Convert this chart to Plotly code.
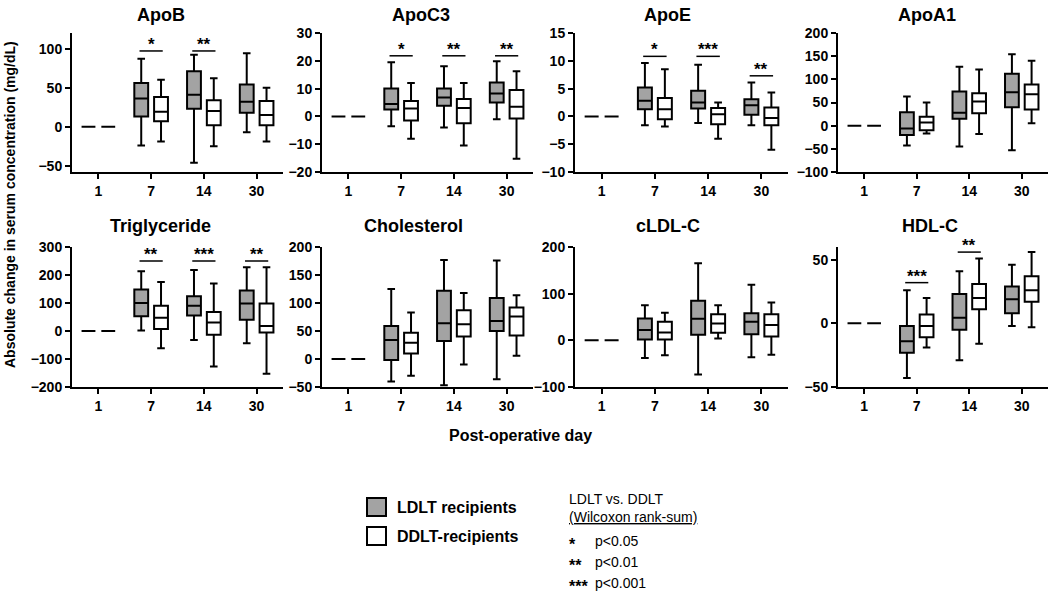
import plotly.graph_objects as go

days = ["1", "7", "14", "30"]
panel_names = ["ApoB", "ApoC3", "ApoE", "ApoA1",
               "Triglyceride", "Cholesterol", "cLDL-C", "HDL-C"]

# box statistics per day: [lower whisker, Q1, median, Q3, upper whisker]
apob_ldlt = [[0, 0, 0, 0, 0], [-24, 13, 36, 56, 87], [-46, 23, 41, 71, 92], [-7, 18, 32, 54, 94]]
apob_ddlt = [[0, 0, 0, 0, 0], [-19, 7, 19, 38, 60], [-25, 2, 20, 34, 62], [-19, 2, 15, 33, 50]]
apoc3_ldlt = [[0, 0, 0, 0, 0], [-3.5, 2.5, 4.5, 10, 19.5], [-4, 3.8, 6.8, 10, 18], [-1, 5, 8.2, 12.2, 19.8]]
apoc3_ddlt = [[0, 0, 0, 0, 0], [-8, -1.5, 2.8, 5.5, 12], [-10.5, -2.5, 3, 6.3, 12], [-15.2, -0.8, 3.5, 9.5, 16.2]]
apoe_ldlt = [[0, 0, 0, 0, 0], [-1.6, 1.3, 2.8, 5.2, 9.6], [-1.2, 1.4, 2.5, 4.6, 9.3], [-1.6, 0.3, 2, 3.1, 6.1]]
apoe_ddlt = [[0, 0, 0, 0, 0], [-1.8, -0.5, 1.3, 3.3, 8.5], [-4, -1.4, 0.4, 1.5, 2.5], [-6, -1.6, -0.3, 1.6, 4.3]]
apoa1_ldlt = [[0, 0, 0, 0, 0], [-43, -20, -6, 29, 63], [-45, 15, 28, 74, 127], [-53, 40, 72, 112, 154]]
apoa1_ddlt = [[0, 0, 0, 0, 0], [-17, -10, 7, 19, 50], [-18, 27, 52, 70, 121], [5, 35, 68, 89, 140]]
tg_ldlt = [[0, 0, 0, 0, 0], [2, 53, 100, 148, 213], [-32, 55, 90, 124, 218], [-44, 40, 98, 145, 228]]
tg_ddlt = [[0, 0, 0, 0, 0], [-62, 7, 47, 90, 175], [-127, -13, 30, 68, 170], [-153, -5, 18, 98, 228]]
chol_ldlt = [[0, 0, 0, 0, 0], [-40, -2, 34, 59, 125], [-47, 32, 64, 122, 177], [-36, 50, 68, 109, 176]]
chol_ddlt = [[0, 0, 0, 0, 0], [-30, 10, 29, 47, 83], [-10, 40, 62, 87, 118], [6, 42, 76, 92, 114]]
cldl_ldlt = [[0, 0, 0, 0, 0], [-38, 2, 22, 47, 75], [-73, 12, 46, 85, 165], [-36, 13, 40, 58, 119]]
cldl_ddlt = [[0, 0, 0, 0, 0], [-32, 2, 17, 40, 59], [4, 16, 36, 56, 75], [-31, 8, 33, 56, 81]]
hdl_ldlt = [[0, 0, 0, 0, 0], [-43, -23, -14, -2, 26], [-29, -5, 4.5, 23, 41], [-2, 8, 19, 29, 46]]
hdl_ddlt = [[0, 0, 0, 0, 0], [-19, -11, -2, 7, 20], [-16, 11, 20, 31, 51], [-3, 17, 26, 37, 56]]

ldlt_data = [apob_ldlt, apoc3_ldlt, apoe_ldlt, apoa1_ldlt, tg_ldlt, chol_ldlt, cldl_ldlt, hdl_ldlt]
ddlt_data = [apob_ddlt, apoc3_ddlt, apoe_ddlt, apoa1_ddlt, tg_ddlt, chol_ddlt, cldl_ddlt, hdl_ddlt]

# y-axis ranges and ticks
y_ranges = [[-58, 120], [-20, 30], [-10, 15], [-100, 200],
            [-200, 300], [-50, 200], [-100, 200], [-50, 60]]
y_ticks = [[-50, 0, 50, 100], [-20, -10, 0, 10, 20, 30], [-10, -5, 0, 5, 10, 15],
           [-100, -50, 0, 50, 100, 150, 200], [-200, -100, 0, 100, 200, 300],
           [-50, 0, 50, 100, 150, 200], [-100, 0, 100, 200], [-50, 0, 50]]

# significance marks per day and bracket level
sig_marks = [["", "*", "**", ""], ["", "*", "**", "**"], ["", "*", "***", "**"], ["", "", "", ""],
             ["", "**", "***", "**"], ["", "", "", ""], ["", "", "", ""], ["", "***", "**", ""]]
sig_levels = [[0, 97, 97, 0], [0, 21.8, 21.8, 21.8], [0, 10.8, 10.8, 7.3], [0, 0, 0, 0],
              [0, 250, 250, 250], [0, 0, 0, 0], [0, 0, 0, 0], [0, 32, 56, 0]]

W, H = 1050, 595
col_px = [(72, 283), (322, 533), (575, 788), (838, 1048)]
row_px = [(33, 172), (247, 387)]
title_px = [(161, 15), (421, 15), (667, 15), (927, 15),
            (160, 226), (413, 226), (668, 226), (930, 226)]

LDLT_FILL = "#a3a3a3"
FONT = "Liberation Sans, Arial, sans-serif"

fig = go.Figure()
layout = dict(
    width=W, height=H, paper_bgcolor="white", plot_bgcolor="white",
    margin=dict(l=0, r=0, t=0, b=0, autoexpand=False), showlegend=False,
    boxmode="group", boxgap=0.25, boxgroupgap=0.3,
    font=dict(family=FONT, color="black"),
)
shapes = []
annotations = []

for i in range(8):
    n = i + 1
    xa = "x" if n == 1 else f"x{n}"
    ya = "y" if n == 1 else f"y{n}"
    r, c = divmod(i, 4)
    x0p, x1p = col_px[c]
    y0p, y1p = row_px[r]
    for name, data, fill in [("LDLT recipients", ldlt_data[i], LDLT_FILL),
                             ("DDLT-recipients", ddlt_data[i], "white")]:
        fig.add_trace(go.Box(
            x=days,
            lowerfence=[d[0] for d in data], q1=[d[1] for d in data],
            median=[d[2] for d in data], q3=[d[3] for d in data],
            upperfence=[d[4] for d in data],
            name=name, offsetgroup=name, fillcolor=fill,
            line=dict(color="black", width=2), whiskerwidth=0.55,
            boxpoints=False, xaxis=xa, yaxis=ya, hoverinfo="skip",
        ))
    axis_common = dict(showline=True, linecolor="black", linewidth=2, ticks="outside",
                       ticklen=5, tickwidth=2, tickcolor="black", showgrid=False,
                       zeroline=False, fixedrange=True, automargin=False,
                       tickfont=dict(family=FONT, size=14, color="black", weight="bold"))
    layout["xaxis" if n == 1 else f"xaxis{n}"] = dict(
        axis_common, type="category", categoryorder="array", categoryarray=days,
        range=[-0.5, 3.5], domain=[x0p / W, x1p / W], anchor=ya)
    layout["yaxis" if n == 1 else f"yaxis{n}"] = dict(
        axis_common, range=y_ranges[i], tickvals=y_ticks[i],
        domain=[1 - y1p / H, 1 - y0p / H], anchor=xa)
    for j, mark in enumerate(sig_marks[i]):
        if mark:
            lvl = sig_levels[i][j]
            shapes.append(dict(type="line", xref=xa, yref=ya, x0=j - 0.22, x1=j + 0.22,
                               y0=lvl, y1=lvl, line=dict(color="black", width=1.5)))
            annotations.append(dict(xref=xa, yref=ya, x=j, y=lvl, text=mark, showarrow=False,
                                    yanchor="bottom", yshift=-5,
                                    font=dict(family=FONT, size=17, color="black", weight="bold")))
    tx, ty = title_px[i]
    annotations.append(dict(xref="paper", yref="paper", x=tx / W, y=1 - ty / H,
                            text=f"<b>{panel_names[i]}</b>", showarrow=False,
                            xanchor="center", yanchor="middle",
                            font=dict(family=FONT, size=18, color="black")))

# axis titles
annotations.append(dict(xref="paper", yref="paper", x=10 / W, y=1 - 205 / H,
                        text="<b>Absolute change in serum concentration (mg/dL)</b>",
                        textangle=-90, showarrow=False, xanchor="center", yanchor="middle",
                        font=dict(family=FONT, size=14, color="black")))
annotations.append(dict(xref="paper", yref="paper", x=520 / W, y=1 - 435 / H,
                        text="<b>Post-operative day</b>", showarrow=False,
                        xanchor="center", yanchor="middle",
                        font=dict(family=FONT, size=16, color="black")))

# legend
legend_items = [("LDLT recipients", LDLT_FILL, 498), ("DDLT-recipients", "white", 527)]
for label, fill, top in legend_items:
    shapes.append(dict(type="rect", xref="paper", yref="paper",
                       x0=367 / W, x1=386 / W, y0=1 - (top + 18) / H, y1=1 - top / H,
                       fillcolor=fill, line=dict(color="black", width=2)))
    annotations.append(dict(xref="paper", yref="paper", x=395 / W, y=1 - (top + 9) / H,
                            text=f"<b>{label}</b>", showarrow=False, xanchor="left",
                            yanchor="middle", font=dict(family=FONT, size=16, color="black")))

annotations.append(dict(xref="paper", yref="paper", x=567 / W, y=1 - 499 / H,
                        text="LDLT vs. DDLT", showarrow=False, xanchor="left", yanchor="middle",
                        font=dict(family=FONT, size=14, color="black")))
annotations.append(dict(xref="paper", yref="paper", x=567 / W, y=1 - 517 / H,
                        text="<u>(Wilcoxon rank-sum)</u>", showarrow=False, xanchor="left",
                        yanchor="middle", font=dict(family=FONT, size=14, color="black")))
p_levels = [("*", "p<0.05", 541), ("**", "p<0.01", 562), ("***", "p<0.001", 583)]
for star, ptxt, yc in p_levels:
    annotations.append(dict(xref="paper", yref="paper", x=567 / W, y=1 - (yc + 3) / H,
                            text=f"<b>{star}</b>", showarrow=False, xanchor="left",
                            yanchor="middle", font=dict(family=FONT, size=16, color="black")))
    annotations.append(dict(xref="paper", yref="paper", x=593 / W, y=1 - yc / H,
                            text=ptxt, showarrow=False, xanchor="left", yanchor="middle",
                            font=dict(family=FONT, size=14, color="black")))

layout["shapes"] = shapes
layout["annotations"] = annotations
fig.update_layout(**layout)
fig.write_html("out.html",
               config={"displayModeBar": False, "staticPlot": True},
               post_script="document.body.style.margin='0';document.body.style.overflow='hidden';")
